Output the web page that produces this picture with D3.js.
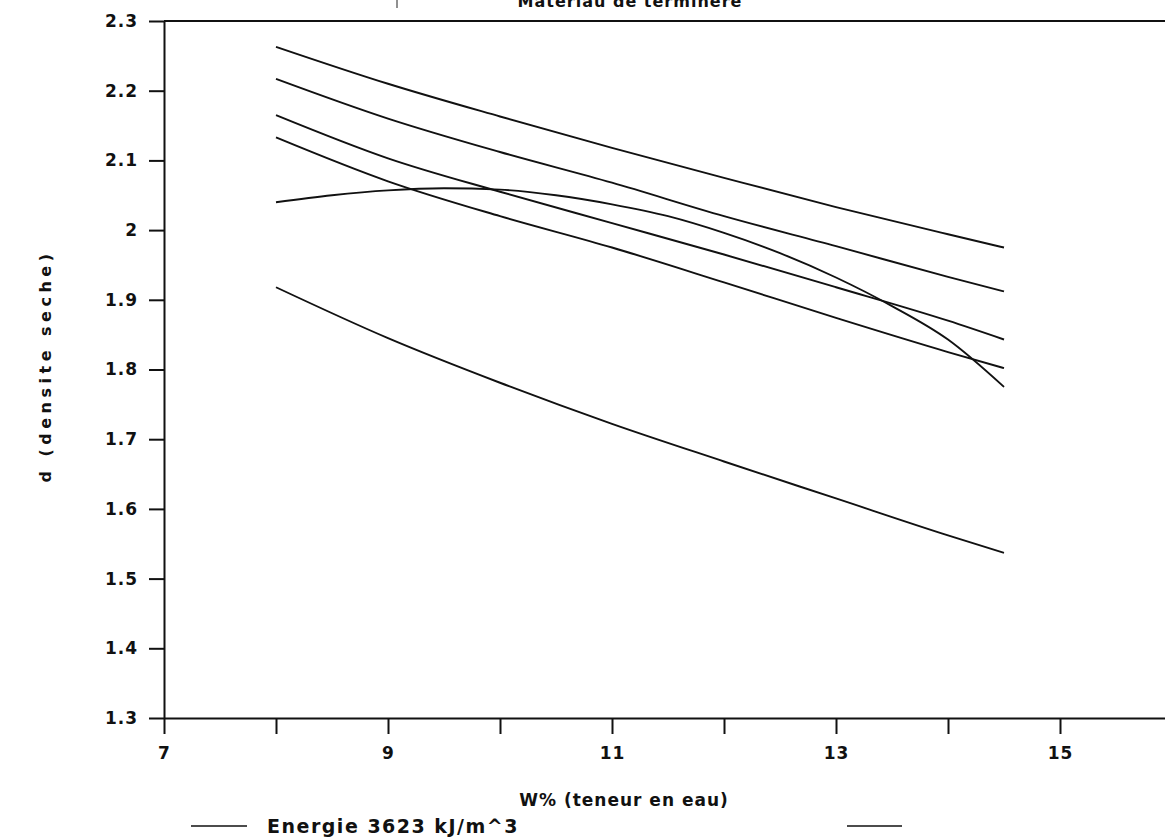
<!DOCTYPE html>
<html>
<head>
<meta charset="utf-8">
<script src="https://cdn.jsdelivr.net/npm/d3@7/dist/d3.min.js"></script>
<style>
body { margin: 0; background: #fff; }
text { font-family: "DejaVu Sans", sans-serif; font-weight: bold; fill: #111; }
</style>
</head>
<body>
<div id="my_dataviz"></div>
<script>
// water content (W%) where the straight-ish curves were read
var waterContent = [8, 9, 10, 11, 12, 13, 14, 14.5];
var density1 = [2.263, 2.210, 2.163, 2.118, 2.075, 2.033, 1.994, 1.975];
var density2 = [2.217, 2.160, 2.112, 2.068, 2.020, 1.977, 1.933, 1.912];
var density3 = [2.165, 2.103, 2.055, 2.010, 1.965, 1.918, 1.870, 1.843];
var density4 = [2.133, 2.070, 2.020, 1.975, 1.925, 1.874, 1.825, 1.802];
var density6 = [1.918, 1.845, 1.781, 1.722, 1.668, 1.615, 1.562, 1.537];

// the bent curve needs more points
var waterContent5 = [8, 8.5, 9, 9.5, 10, 10.5, 11, 11.5, 12, 12.5, 13, 13.5, 14, 14.5];
var density5 = [2.040, 2.050, 2.057, 2.060, 2.058, 2.050, 2.037, 2.020, 1.996, 1.967, 1.932, 1.891, 1.843, 1.775];

var xTicks = [7, 8, 9, 10, 11, 12, 13, 14, 15, 16];
var xTickLabels = [7, 9, 11, 13, 15];
var yTicks = [1.3, 1.4, 1.5, 1.6, 1.7, 1.8, 1.9, 2.0, 2.1, 2.2, 2.3];

var titleText = "Materiau de terminere";
var xTitle = "W% (teneur en eau)";
var yTitle = "d (densite seche)";
var legendText = "Energie 3623 kJ/m^3";

document.addEventListener('DOMContentLoaded', function() {
    drawChart();
});

function drawChart() {
    var width = 1165,
        height = 838;

    var svg = d3.select("#my_dataviz")
        .append("svg")
        .attr("width", width)
        .attr("height", height);

    var x = d3.scaleLinear()
        .domain([7, 16])
        .range([164, 1172]);

    var y = d3.scaleLinear()
        .domain([1.3, 2.3])
        .range([718, 21]);

    // title, cut off at the top of the scan like the original
    svg.append("text")
        .attr("x", 630)
        .attr("y", 7)
        .attr("text-anchor", "middle")
        .style("font-size", "16px")
        .style("letter-spacing", "1px")
        .text(titleText);

    svg.append("line")
        .attr("x1", 397).attr("x2", 397)
        .attr("y1", 0).attr("y2", 8)
        .attr("stroke", "#222")
        .attr("stroke-width", 1);

    // top frame line
    svg.append("line")
        .attr("x1", x(7)).attr("x2", width)
        .attr("y1", y(2.3)).attr("y2", y(2.3))
        .attr("stroke", "#111")
        .attr("stroke-width", 2);

    // X
    var xAxis = svg.append("g")
        .attr("transform", "translate(0," + y(1.3) + ")")
        .call(d3.axisBottom(x)
            .tickValues(xTicks)
            .tickSize(16)
            .tickSizeOuter(0)
            .tickPadding(13)
            .tickFormat(function(d) { return xTickLabels.indexOf(d) >= 0 ? d : ""; }));

    // Y
    var yAxis = svg.append("g")
        .attr("transform", "translate(" + x(7) + ",0)")
        .call(d3.axisLeft(y)
            .tickValues(yTicks)
            .tickSize(15)
            .tickSizeOuter(0)
            .tickPadding(11)
            .tickFormat(function(d) { return String(+d.toFixed(1)); }));

    [xAxis, yAxis].forEach(function(g) {
        g.select(".domain").attr("stroke", "#111").attr("stroke-width", 2);
        g.selectAll(".tick line").attr("stroke", "#111").attr("stroke-width", 2);
        g.selectAll(".tick text")
            .attr("fill", "#111")
            .style("font-family", "DejaVu Sans, sans-serif")
            .style("font-weight", "bold")
            .style("font-size", "17px")
            .style("letter-spacing", "1px");
    });

    svg.append("text")
        .attr("x", 624)
        .attr("y", 806)
        .attr("text-anchor", "middle")
        .style("font-size", "17px")
        .style("letter-spacing", "1px")
        .text(xTitle);

    svg.append("text")
        .attr("transform", "translate(51,366) rotate(-90)")
        .attr("text-anchor", "middle")
        .style("font-size", "16px")
        .style("letter-spacing", "4.5px")
        .text(yTitle);

    // lines
    var line = d3.line()
        .x(function(d) { return x(d[0]); })
        .y(function(d) { return y(d[1]); })
        .curve(d3.curveMonotoneX);

    var series = [
        d3.zip(waterContent, density1),
        d3.zip(waterContent, density2),
        d3.zip(waterContent, density3),
        d3.zip(waterContent, density4),
        d3.zip(waterContent5, density5),
        d3.zip(waterContent, density6)
    ];

    svg.selectAll("path.curve")
        .data(series)
        .enter()
        .append("path")
        .attr("class", "curve")
        .attr("d", line)
        .attr("fill", "none")
        .attr("stroke", "#111")
        .attr("stroke-width", 1.9);

    // legend at the bottom
    svg.append("line")
        .attr("x1", 191).attr("x2", 247)
        .attr("y1", 826).attr("y2", 826)
        .attr("stroke", "#111")
        .attr("stroke-width", 1.5);

    svg.append("text")
        .attr("x", 267)
        .attr("y", 833)
        .style("font-size", "19px")
        .style("letter-spacing", "1.5px")
        .text(legendText);

    svg.append("line")
        .attr("x1", 847).attr("x2", 902)
        .attr("y1", 826).attr("y2", 826)
        .attr("stroke", "#111")
        .attr("stroke-width", 1.5);
}
</script>
</body>
</html>
